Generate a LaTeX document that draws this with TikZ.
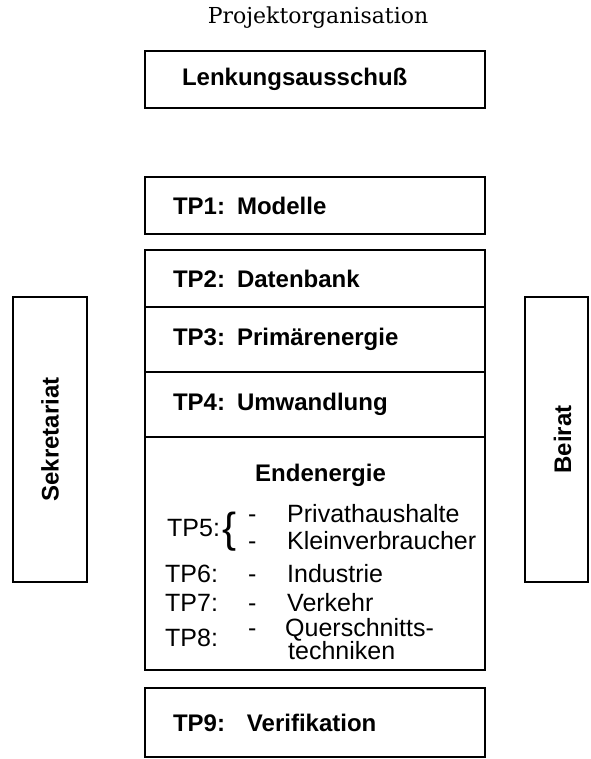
\documentclass[tikz,border=0pt]{standalone}
\usepackage{fontspec}
\setmainfont{DejaVu Serif}
\setsansfont{Liberation Sans}
\usetikzlibrary{positioning}

\begin{document}
\begin{tikzpicture}[
    x=1pt, y=-1pt,
    unit/.style={
        rectangle, draw=black, line width=2.6pt,
        minimum width=340pt, minimum height=57pt,
        inner xsep=28pt, text width=284pt, align=left,
        font=\sffamily\bfseries\fontsize{24}{28}\selectfont
    },
    part/.style={
        rectangle, draw=black, line width=1.1pt,
        minimum width=340pt,
        inner xsep=28pt, text width=284pt, align=left,
        font=\sffamily\bfseries\fontsize{24}{28}\selectfont
    },
    sidebox/.style={
        rectangle, draw=black, line width=2.6pt,
        minimum height=285pt
    },
    sidelabel/.style={
        rotate=90, inner sep=0pt,
        font=\sffamily\bfseries\fontsize{24}{28}\selectfont
    },
    tplabel/.style={
        anchor=west, inner sep=0pt, text height=18pt, text depth=0pt,
        font=\sffamily\fontsize{25}{28}\selectfont
    },
    item/.style={
        anchor=west, inner sep=0pt, text height=18pt, text depth=0pt,
        font=\sffamily\fontsize{25}{23}\selectfont
    }
]
\useasboundingbox (0,0) rectangle (590,759);

% Title
\node[font=\fontsize{22}{26}\selectfont] (title) at (318,18) {Projektorganisation};

% Main column
\node[unit, inner xsep=37pt, text width=266pt] (lenkung) at (315,79.5) {Lenkungsausschuß};
\node[unit] (tp1) at (315,205.5) {TP1: Modelle};

\node[part, minimum height=57pt] (tp2) at (315,278.5) {TP2: Datenbank};
\node[part, minimum height=65pt] (tp3) at (315,339.5) {TP3: Primärenergie};
\node[part, minimum height=65pt] (tp4) at (315,404.5) {TP4: Umwandlung};
\node[unit, minimum height=420pt] (frame) at (315,460) {};

% Endenergie
\node[item, font=\sffamily\bfseries\fontsize{24}{28}\selectfont] (enden) at (255,472) {Endenergie};

\node[tplabel] (tp5) at (167,527) {TP5:\hspace{3pt}\raisebox{-6pt}{\fontsize{42}{42}\selectfont\{}};
\node[tplabel] (tp6) at (165,573) {TP6:};
\node[tplabel] (tp7) at (165,602) {TP7:};
\node[tplabel] (tp8) at (165,637) {TP8:};

\foreach \y/\n in {513/d1, 540/d2, 573/d3, 602/d4, 627/d5}
    \node[item] (\n) at (248,\y) {-};

\node[item] (privat) at (287,513) {Privathaushalte};
\node[item] (klein) at (287,540) {Kleinverbraucher};
\node[item] (indu) at (287,573) {Industrie};
\node[item] (verkehr) at (287,602) {Verkehr};
\node[item] (quer) at (285,627) {Querschnitts-};
\node[item] (technik) at (288,650) {techniken};

% Verifikation
\node[unit, minimum height=69pt] (tp9) at (315,722.5) {TP9:\hspace{22pt}Verifikation};

% Side boxes
\node[sidebox, minimum width=74pt] (sek) at (50,439.5) {};
\node[sidelabel] (seklabel) at (sek.center) {Sekretariat};
\node[sidebox, minimum width=63pt] (beirat) at (556.5,439.5) {};
\node[sidelabel] (beilabel) at ([xshift=6pt]beirat.center) {Beirat};

\end{tikzpicture}
\end{document}
